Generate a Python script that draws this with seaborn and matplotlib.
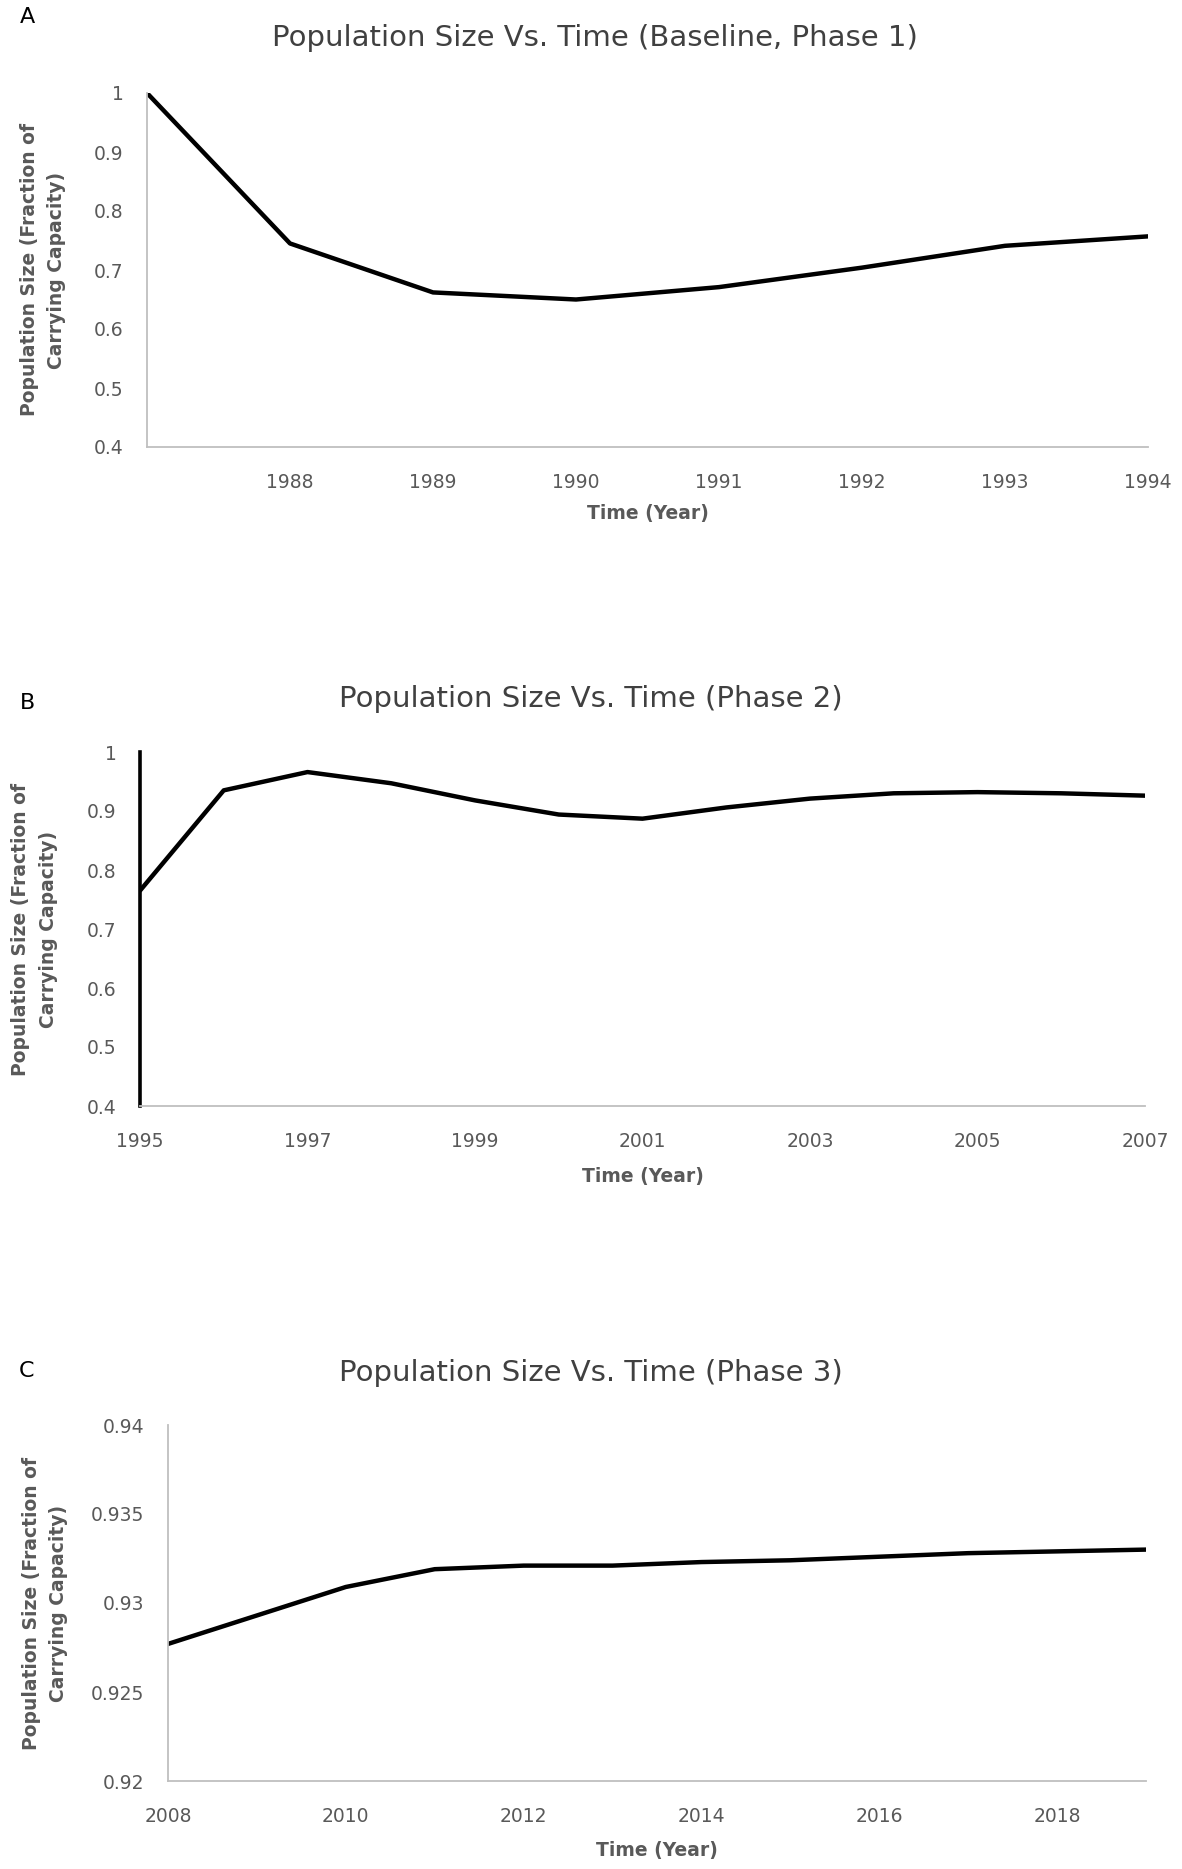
import pandas as pd
import matplotlib.pyplot as plt
import seaborn as sns
from matplotlib.ticker import FuncFormatter

# values
years_a = [1987, 1988, 1989, 1990, 1991, 1992, 1993, 1994]
pop_a = [1.0, 0.745, 0.662, 0.650, 0.671, 0.704, 0.741, 0.757]
xticks_a = [1988, 1989, 1990, 1991, 1992, 1993, 1994]
yticks_a = [0.4, 0.5, 0.6, 0.7, 0.8, 0.9, 1.0]

years_b = [1995, 1996, 1997, 1998, 1999, 2000, 2001, 2002, 2003, 2004, 2005, 2006, 2007]
pop_b = [0.765, 0.935, 0.966, 0.947, 0.918, 0.894, 0.887, 0.906, 0.921, 0.930, 0.932, 0.930, 0.926]
xticks_b = [1995, 1997, 1999, 2001, 2003, 2005, 2007]
yticks_b = [0.4, 0.5, 0.6, 0.7, 0.8, 0.9, 1.0]

years_c = [2008, 2009, 2010, 2011, 2012, 2013, 2014, 2015, 2016, 2017, 2018, 2019]
pop_c = [0.9277, 0.9293, 0.9309, 0.9319, 0.9321, 0.9321, 0.9323, 0.9324, 0.9326, 0.9328, 0.9329, 0.9330]
xticks_c = [2008, 2010, 2012, 2014, 2016, 2018]
yticks_c = [0.92, 0.925, 0.93, 0.935, 0.94]

titles = ["Population Size Vs. Time (Baseline, Phase 1)",
          "Population Size Vs. Time (Phase 2)",
          "Population Size Vs. Time (Phase 3)"]
letters = ["A", "B", "C"]
ylabel = "Population Size (Fraction of\nCarrying Capacity)"
xlabel = "Time (Year)"

W, H = 1182, 1869
GREY_TEXT = "#595959"
GREY_AXIS = "#bfbfbf"

sns.set_theme(style="white")
plt.rcParams["font.family"] = ["DejaVu Sans"]

fig = plt.figure(figsize=(W / 100, H / 100), dpi=100)


def px_rect(left, top, right, bottom):
    return [left / W, 1 - bottom / H, (right - left) / W, (bottom - top) / H]


panels = [
    dict(years=years_a, pop=pop_a, xticks=xticks_a, yticks=yticks_a, ylim=(0.4, 1.0),
         rect=(147, 93, 1148, 447), title_xy=(595, 38), letter_y=17, ylab_x=-0.104,
         xlab_y=-0.189, left_black=False),
    dict(years=years_b, pop=pop_b, xticks=xticks_b, yticks=yticks_b, ylim=(0.4, 1.0),
         rect=(140, 752, 1145, 1106), title_xy=(591, 699), letter_y=703, ylab_x=-0.105,
         xlab_y=-0.198, left_black=True),
    dict(years=years_c, pop=pop_c, xticks=xticks_c, yticks=yticks_c, ylim=(0.92, 0.94),
         rect=(168, 1425, 1146, 1781), title_xy=(591, 1373), letter_y=1371, ylab_x=-0.126,
         xlab_y=-0.194, left_black=False),
]

for i, p in enumerate(panels):
    ax = fig.add_axes(px_rect(*p["rect"]))
    df = pd.DataFrame({"year": p["years"], "pop": p["pop"]})
    sns.lineplot(data=df, x="year", y="pop", ax=ax, color="black", linewidth=3.2)

    ax.set_xlim(p["years"][0], p["years"][-1])
    ax.set_ylim(*p["ylim"])
    ax.set_xticks(p["xticks"])
    ax.set_yticks(p["yticks"])
    ax.yaxis.set_major_formatter(FuncFormatter(lambda v, _: f"{v:g}"))
    ax.tick_params(length=0, labelsize=13.5, colors=GREY_TEXT)
    ax.tick_params(axis="x", pad=19)
    ax.tick_params(axis="y", pad=17)

    sns.despine(ax=ax)
    ax.spines["bottom"].set_color(GREY_AXIS)
    ax.spines["bottom"].set_linewidth(1.3)
    if p["left_black"]:
        ax.spines["left"].set_color("black")
        ax.spines["left"].set_linewidth(2.6)
    else:
        ax.spines["left"].set_color(GREY_AXIS)
        ax.spines["left"].set_linewidth(1.3)

    ax.set_xlabel(xlabel, fontsize=13.5, fontweight="bold", color=GREY_TEXT)
    ax.xaxis.set_label_coords(0.5, p["xlab_y"])
    ax.xaxis.label.set_va("center")
    ax.set_ylabel(ylabel, fontsize=13.5, fontweight="bold", color=GREY_TEXT,
                  linespacing=1.55)
    ax.yaxis.set_label_coords(p["ylab_x"], 0.5)
    ax.yaxis.label.set_va("center")

    tx, ty = p["title_xy"]
    fig.text(tx / W, 1 - ty / H, titles[i], fontsize=21, color="#404040",
             ha="center", va="center")
    fig.text(27 / W, 1 - p["letter_y"] / H, letters[i], fontsize=16, color="black",
             ha="center", va="center")

fig.savefig("out.png", dpi=100, facecolor="white")
